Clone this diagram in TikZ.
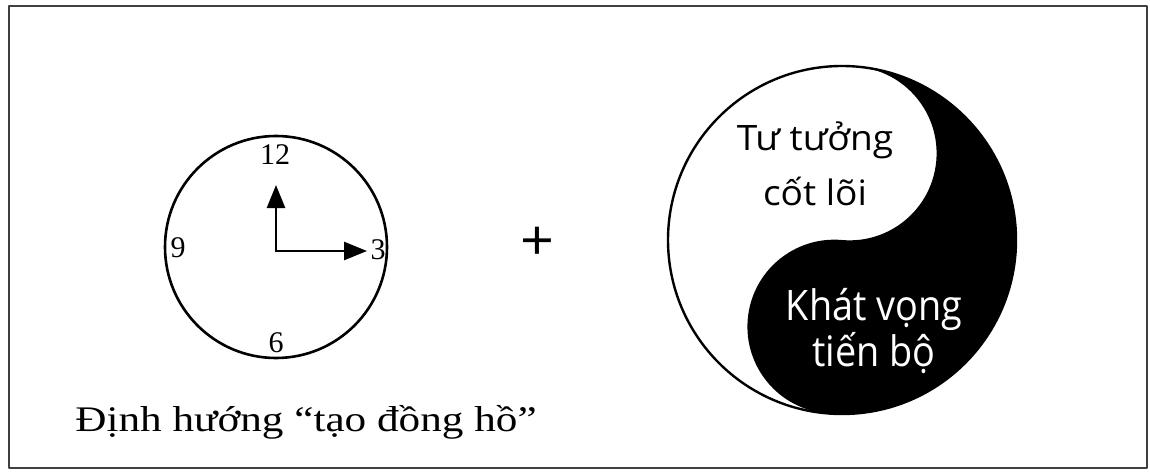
\documentclass[tikz,border=0pt]{standalone}
\usepackage{fontspec}
\setmainfont{Liberation Serif}
\newfontfamily\capfont[FakeStretch=1.2]{Liberation Serif}
\newfontfamily\yysans[FakeStretch=1.06]{Open Sans}
\newfontfamily\yynarrow[FakeStretch=0.9]{Open Sans}
\usetikzlibrary{arrows.meta}

\begin{document}
\begin{tikzpicture}[x=1pt,y=1pt,>={Triangle[length=23pt,width=18pt]},line cap=round,line join=round,
  digit/.style={font=\fontsize{30}{32}\selectfont,inner sep=0pt}]
\useasboundingbox (0,0) rectangle (1150,472);
\coordinate (fl) at (9,4);
\coordinate (fr) at (1147,466);
\coordinate (clk) at (276,225);
\coordinate (o) at (276,221);
\coordinate (h) at (276,287);
\coordinate (m) at (367,221);
\coordinate (yy) at (842,232);
\draw[line width=2pt,black!75] (fl) rectangle (fr);
% clock
\draw[line width=2.6pt] (clk) circle (111);
\draw[->,line width=2.6pt] (o) -- (h);
\draw[->,line width=2.6pt] (o) -- (m);
\node[digit] (n12) at (275,317) {12};
\node[digit] (n3) at (378,222) {3};
\node[digit] (n9) at (178,224) {9};
\node[digit] (n6) at (276,129) {6};
\node[font=\capfont\fontsize{36}{38}\selectfont] (cap) at (306,50) {Định hướng “tạo đồng hồ”};
\node[font=\yysans\fontsize{56}{56}\selectfont] (plus) at (537,228) {+};
% yin-yang
\begin{scope}[shift={(yy)},rotate=-5]
\fill (0,174) arc[start angle=90,end angle=-90,radius=174]
  arc[start angle=-90,end angle=-270,radius=87]
  arc[start angle=-90,end angle=90,radius=87] -- cycle;
\end{scope}
\draw[line width=2.4pt] (yy) circle (174);
\node[font=\yysans\fontsize{35}{55}\selectfont,align=center] (core) at (815,308) {Tư tưởng\\cốt lõi};
\node[font=\yynarrow\fontsize{42}{39}\selectfont,text=white,align=center] (goal) at (874,141) {Khát vọng\\tiến bộ};
\end{tikzpicture}
\end{document}
